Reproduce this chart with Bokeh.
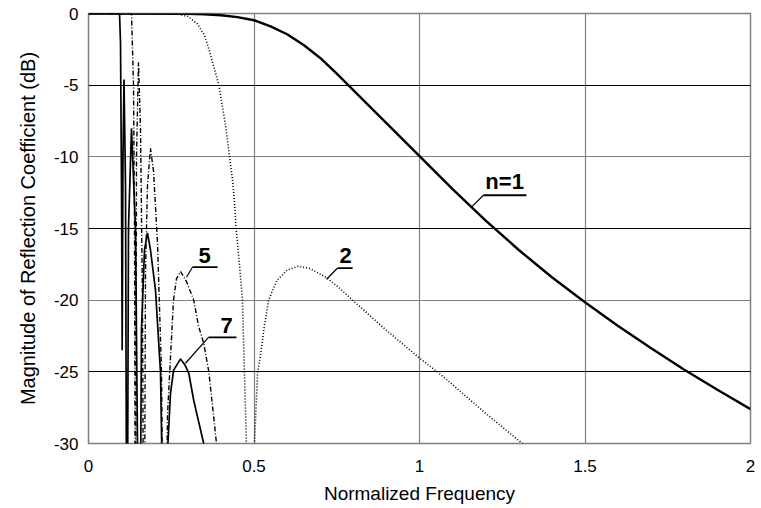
from bokeh.plotting import figure
from bokeh.models import FixedTicker, Grid, CustomJSTickFormatter, Range1d, Label
from bokeh.embed import file_html
from bokeh.resources import INLINE

# ---- data (normalized frequency, dB) ----
freq_n1 = [0.0, 0.3, 0.35, 0.4, 0.45, 0.5, 0.55, 0.6, 0.65, 0.7, 0.75, 0.8, 0.85, 0.9, 0.95,
           1.0, 1.1, 1.2, 1.3, 1.4, 1.5, 1.6, 1.7, 1.8, 1.9, 2.0]
db_n1 = [0.0, -0.02, -0.05, -0.12, -0.25, -0.47, -0.9, -1.45, -2.2, -3.1, -4.2, -5.35, -6.5, -7.65, -8.8,
         -9.95, -12.25, -14.45, -16.5, -18.4, -20.15, -21.8, -23.35, -24.85, -26.25, -27.6]

freq_n2 = [0.0, 0.26, 0.30, 0.328, 0.35, 0.364, 0.394, 0.414, 0.424, 0.435, 0.44, 0.446, 0.456, 0.465,
           0.471, 0.477, 0.49, 0.5015, 0.511, 0.520, 0.53, 0.544, 0.57, 0.60, 0.634, 0.67, 0.722,
           0.76, 0.80, 0.90, 1.003, 1.054, 1.10, 1.20, 1.311, 1.35]
db_n2 = [0.0, 0.0, -0.2, -0.7, -1.5, -2.5, -5.0, -7.8, -9.6, -11.6, -12.8, -15.0, -17.5, -20.0,
         -25.0, -30.0, -45.0, -30.0, -25.0, -23.8, -22.0, -20.0, -18.6, -17.9, -17.63, -17.8, -18.47,
         -19.2, -20.05, -22.1, -24.1, -25.0, -25.9, -27.9, -30.0, -30.8]

freq_n5 = [0.0, 0.1299, 0.136, 0.139, 0.142, 0.145, 0.151, 0.1571, 0.1631, 0.1677, 0.1722, 0.1782,
           0.1873, 0.1964, 0.2085, 0.2205, 0.2296, 0.2387, 0.2477, 0.2568, 0.2659, 0.278, 0.2961,
           0.318, 0.3323, 0.348, 0.3636, 0.3867, 0.4048]
db_n5 = [0.0, 0.0, -5.0, -15.0, -45.0, -10.0, -3.4, -8.0, -20.0, -45.0, -18.0, -12.0,
         -9.4, -11.0, -16.0, -25.0, -45.0, -28.0, -24.0, -20.0, -18.5, -18.0, -18.7,
         -20.0, -21.8, -23.0, -25.0, -30.0, -33.0]

freq_n7 = [0.0, 0.0937, 0.0967, 0.0997, 0.1018, 0.1042, 0.1073, 0.1118, 0.1163, 0.1208, 0.1299,
           0.142, 0.1541, 0.1601, 0.1692, 0.1782, 0.1873, 0.2024, 0.2175, 0.232, 0.24, 0.2477,
           0.257, 0.278, 0.291, 0.303, 0.318, 0.333, 0.348, 0.3686]
db_n7 = [0.0, 0.0, -2.0, -12.0, -23.5, -10.0, -4.6, -12.0, -45.0, -15.0, -8.0,
         -15.0, -45.0, -22.0, -16.5, -15.3, -16.5, -19.3, -25.0, -45.0, -30.0, -26.5,
         -24.9, -24.1, -24.5, -25.1, -27.0, -28.5, -30.0, -33.0]

x_ticks = [0, 0.5, 1, 1.5, 2]
y_ticks = [0, -5, -10, -15, -20, -25, -30]

# ---- figure ----
FONT = "Liberation Sans"
p = figure(width=761, height=508, output_backend="svg", toolbar_location=None,
           x_range=Range1d(0, 2), y_range=Range1d(-30, 0),
           min_border_left=88, min_border_right=11, min_border_top=13, min_border_bottom=65,
           background_fill_color="white", border_fill_color="white")
p.outline_line_color = "#808080"
p.outline_line_width = 1.5

# grid
p.xgrid.ticker = FixedTicker(ticks=[0.5, 1, 1.5])
p.xgrid.grid_line_color = "#808080"
p.xgrid.grid_line_width = 1.2
p.ygrid.visible = False
p.add_layout(Grid(dimension=1, ticker=FixedTicker(ticks=[-5, -15, -25]),
                  grid_line_color="black", grid_line_width=1.2))
p.add_layout(Grid(dimension=1, ticker=FixedTicker(ticks=[-10, -20]),
                  grid_line_color="#808080", grid_line_width=1.2))

fmt = CustomJSTickFormatter(code="return tick.toString();")
for ax, ticks in ((p.xaxis[0], x_ticks), (p.yaxis[0], y_ticks)):
    ax.ticker = FixedTicker(ticks=ticks)
    ax.formatter = fmt
    ax.major_tick_line_color = None
    ax.minor_tick_line_color = None
    ax.axis_line_color = None
    ax.major_label_text_font = FONT
    ax.major_label_text_font_size = "17px"
    ax.major_label_text_color = "black"
    ax.axis_label_text_font = FONT
    ax.axis_label_text_font_style = "normal"
    ax.axis_label_text_color = "black"

p.xaxis.axis_label = "Normalized Frequency"
p.yaxis.axis_label = "Magnitude of Reflection Coefficient (dB)"
p.xaxis.major_label_standoff = 10
p.xaxis.axis_label_standoff = 8
p.xaxis.axis_label_text_font_size = "19px"
p.yaxis.major_label_standoff = 4
p.yaxis.axis_label_standoff = 12
p.yaxis.axis_label_text_font_size = "20px"

# curves
p.line(freq_n1, db_n1, line_color="black", line_width=2.4)
p.line(freq_n2, db_n2, line_color="black", line_width=1.6, line_dash="1 2")
p.line(freq_n5, db_n5, line_color="black", line_width=1.4, line_dash="5 2 1 2")
p.line(freq_n7, db_n7, line_color="black", line_width=1.7)

# callout labels: (text, text x, text y, underline x0, underline x1, underline y, leader end x, leader end y)
callouts = [
    ("n=1", 1.199, -11.70, 1.193, 1.323, -12.68, 1.157, -13.51),
    ("2", 0.758, -16.86, 0.752, 0.798, -17.77, 0.719, -18.54),
    ("5", 0.332, -16.86, 0.314, 0.390, -17.70, 0.296, -18.40),
    ("7", 0.399, -21.75, 0.3625, 0.447, -22.59, 0.293, -24.40),
]
for txt, tx, ty, ux0, ux1, uy, lx, ly in callouts:
    p.add_layout(Label(x=tx, y=ty, text=txt, text_font=FONT, text_font_style="bold",
                       text_font_size="22px", text_color="black", text_baseline="alphabetic",
                       text_align="left"))
    p.line([ux0, ux1], [uy, uy], line_color="black", line_width=1.8)
    p.line([lx, ux0], [ly, uy], line_color="black", line_width=1.2)

open("out.html", "w").write(file_html(p, INLINE))
